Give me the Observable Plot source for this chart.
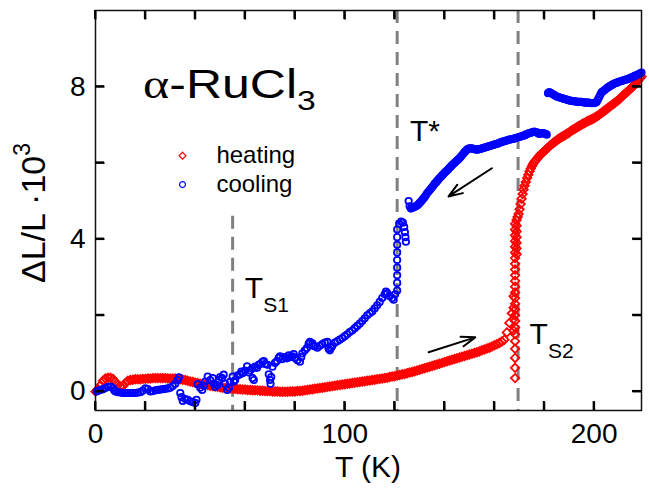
<!DOCTYPE html>
<html><head><meta charset="utf-8">
<script src="https://cdn.jsdelivr.net/npm/d3@7"></script>
<script src="https://cdn.jsdelivr.net/npm/@observablehq/plot@0.6"></script>
<style>
body{margin:0;background:#fff}
svg{font-family:"Liberation Sans",Arial,sans-serif}
</style>
</head><body><div id="chart"></div>
<script>
// heating: [T (K), ΔL/L·10^3]
const heating = [
[0,0.00],[1,0.06],[2,0.16],[3,0.28],[4,0.34],[5,0.36],[6,0.36],[7,0.33],[8,0.25],[9,0.17],
[10,0.13],[11,0.14],[12,0.22],[13,0.28],[14,0.30],[15,0.31],[16,0.32],[17,0.32],[18,0.32],[19,0.33],
[20,0.33],[21,0.34],[22,0.34],[23,0.35],[24,0.35],[25,0.35],[26,0.35],[27,0.35],[28,0.35],[29,0.34],
[30,0.34],[31,0.34],[32,0.34],[33,0.33],[34,0.32],[35,0.31],[36,0.30],[37,0.28],[38,0.26],[39,0.25],
[40,0.23],[41,0.22],[42,0.20],[43,0.19],[44,0.18],[45,0.17],[46,0.15],[47,0.14],[48,0.13],[49,0.12],
[50,0.11],[51,0.10],[52,0.09],[53,0.09],[54,0.08],[55,0.08],[56,0.07],[57,0.06],[58,0.06],[59,0.05],
[60,0.05],[61,0.04],[62,0.04],[63,0.03],[64,0.03],[65,0.03],[66,0.02],[67,0.02],[68,0.01],[69,0.01],
[70,0.01],[71,0.00],[72,0.00],[73,0.00],[74,-0.01],[75,-0.01],[76,-0.01],[77,-0.01],[78,0.00],[79,0.00],
[80,0.00],[81,0.01],[82,0.01],[83,0.02],[84,0.03],[85,0.04],[86,0.05],[87,0.06],[88,0.07],[89,0.08],
[90,0.09],[91,0.10],[92,0.11],[93,0.12],[94,0.13],[95,0.14],[96,0.15],[97,0.16],[98,0.17],[99,0.18],
[100,0.19],[101,0.20],[102,0.21],[103,0.22],[104,0.23],[105,0.24],[106,0.25],[107,0.26],[108,0.27],[109,0.28],
[110,0.29],[111,0.30],[112,0.31],[113,0.32],[114,0.33],[115,0.34],[116,0.35],[117,0.36],[118,0.38],[119,0.39],
[120,0.40],[121,0.42],[122,0.43],[123,0.45],[124,0.46],[125,0.48],[126,0.50],[127,0.51],[128,0.53],[129,0.55],
[130,0.57],[131,0.59],[132,0.61],[133,0.63],[134,0.65],[135,0.67],[136,0.69],[137,0.71],[138,0.73],[139,0.75],
[140,0.77],[141,0.79],[142,0.81],[143,0.83],[144,0.85],[145,0.87],[146,0.89],[147,0.91],[148,0.93],[149,0.95],
[150,0.97],[151,0.99],[152,1.01],[153,1.03],[154,1.05],[155,1.08],[156,1.10],[157,1.13],[158,1.15],[159,1.18],
[160,1.21],[161,1.24],[162,1.27],[163,1.31],[164,1.36],[165,1.55],[166,1.80],[167,2.05],
[168.3,0.35],[168.3,0.62],[168.3,0.88],[168.3,1.12],[168.3,1.32],[168.3,1.50],[168.3,1.68],[168.3,1.85],
[168.3,2.00],[168.3,2.15],[168.3,2.30],[168.3,2.45],[168.3,2.60],[168.3,2.75],[168.3,2.90],[168.3,3.05],
[168.3,3.20],[168.3,3.35],[168.3,3.50],[168.3,3.65],[168.3,3.80],[168.3,3.95],[168.3,4.10],[168.3,4.25],[168.3,4.40],
[167.7,1.60],[167.7,1.90],[167.7,2.20],[167.7,2.50],
[168.9,3.60],[168.9,3.75],[168.9,3.90],[168.9,4.05],[168.9,4.20],[168.9,4.35],[168.9,4.50],
[169.3,4.58],[169.7,4.66],[170.1,4.78],[170.5,4.92],[170.9,5.06],[171.3,5.18],[171.7,5.30],[172.1,5.40],
[172.6,5.50],[173.1,5.60],[173.6,5.69],[174.1,5.78],[174.6,5.85],[175.1,5.92],[175.5,5.97],[176,6.02],[176.5,6.06],[177,6.10],
[177.5,6.14],[178,6.18],[178.5,6.22],[179,6.25],[179.5,6.28],[180,6.31],[180.5,6.34],[181,6.37],[181.5,6.40],[182,6.43],[182.5,6.46],[183,6.49],[183.5,6.52],[184,6.54],[184.5,6.57],[185,6.59],[185.5,6.62],[186,6.64],
[186.5,6.66],[187,6.68],[187.5,6.70],[188,6.72],[188.5,6.74],[189,6.76],[189.5,6.78],[190,6.80],[190.5,6.83],[191,6.85],[191.5,6.87],[192,6.89],[192.5,6.91],[193,6.93],[193.5,6.95],[194,6.97],[194.5,6.99],[195,7.01],
[195.5,7.03],[196,7.04],[196.5,7.06],[197,7.08],[197.5,7.10],[198,7.11],[198.5,7.13],[199,7.14],[199.5,7.16],[200,7.18],[200.5,7.20],[201,7.22],[201.5,7.24],[202,7.26],[202.5,7.29],[203,7.31],[203.5,7.34],[204,7.36],
[204.5,7.39],[205,7.41],[205.5,7.44],[206,7.46],[206.5,7.49],[207,7.51],[207.5,7.54],[208,7.56],[208.5,7.59],[209,7.61],[209.5,7.64],[210,7.67],[210.5,7.70],[211,7.73],[211.5,7.76],[212,7.79],[212.5,7.82],[213,7.85],
[213.5,7.88],[214,7.91],[214.5,7.94],[215,7.97],[215.5,8.00],[216,8.04],[216.5,8.07],[217,8.11],[217.5,8.15],[218,8.19],[218.5,8.23],[219,8.27]
];

// cooling: [T (K), ΔL/L·10^3]
const cooling = [
[0.5,0.00],[1,0.02],[2,0.04],[3,0.06],[4,0.09],[5,0.12],[6,0.13],[7,0.09],[7.5,0.03],[8,0.00],
[9,-0.02],[10,-0.03],[11,-0.04],[12,-0.04],[13,-0.04],[14,-0.04],[15,-0.04],[16,-0.04],[17,-0.03],[18,-0.02],
[19,0.02],[20,0.08],[21,0.06],[22,0.00],[23,0.01],[24,0.03],[25,0.04],[26,0.05],[27,0.06],[28,0.07],
[29,0.08],[30,0.10],[31,0.14],[32,0.20],[33,0.30],[33.5,0.37],[34,-0.04],[34.5,-0.15],[35,-0.25],[36,-0.20],
[37,-0.22],[38,-0.26],[39,-0.28],[40,-0.30],[40.5,-0.22],[41,0.19],[42,0.10],[42.8,0.04],[43.5,0.15],[44,0.26],
[45,0.39],[46,0.30],[47,0.35],[47.5,0.20],[48,0.12],[48.8,0.17],[49.5,0.30],[50,0.38],[50.8,0.35],[51.4,0.44],
[52,0.20],[52.8,0.04],[53.5,0.10],[54,0.25],[55,0.39],[55.5,0.26],[56,0.30],[57,0.42],[58,0.45],[58.5,0.52],
[59,0.48],[60,0.55],[60.8,0.66],[61.5,0.50],[62,0.55],[62.8,0.60],[63,0.35],[63.5,0.30],[64,0.65],[64.8,0.62],
[65.5,0.70],[66,0.72],[67,0.78],[67.5,0.80],[68,0.72],[69,0.70],[69.5,0.45],[70,0.30],[70.2,0.20],[70.5,0.38],
[71,0.65],[72,0.75],[72.8,0.80],[73.5,0.88],[74,0.92],[75,0.85],[76,0.90],[76.8,0.87],[77.5,0.95],[78,0.90],
[79,0.92],[79.5,0.98],[80,0.88],[81,0.82],[82,0.78],[82.5,0.90],[83,1.00],[84,1.08],[84.8,1.14],[85.5,1.25],
[86,1.30],[87,1.26],[87.5,1.20],[88,1.18],[89,1.15],[90,1.20],[91,1.24],[92,1.28],[93,1.30],[93.5,1.12],
[94,1.08],[94.5,1.15],[95,1.20],[96,1.28],[97,1.32],[98,1.36],[99,1.40],[100,1.45],[101,1.50],[102,1.56],
[103,1.60],[104,1.66],[105,1.72],[106,1.78],[107,1.85],[108,1.92],[109,2.00],[110,2.05],[111,2.10],[112,2.18],
[113,2.26],[114,2.35],[115,2.45],[116,2.55],[116.5,2.62],[117,2.58],[118,2.50],[119,2.45],[119.6,2.41],[120.2,2.55],
[121,2.65],[121,2.85],[121,3.05],[121,3.25],[121,3.45],[121,3.65],[121,3.85],[121,4.05],[121,4.25],
[121.8,4.40],[122.6,4.46],[123.3,4.43],[123.8,4.32],[124.1,4.18],[124.3,4.05],[124.5,3.93],
[125.6,5.00],[126,4.86],[126.5,4.80],[127,4.82],[127.5,4.83],[128,4.85],[128.5,4.86],[129,4.88],[129.5,4.91],[130,4.95],[130.5,4.98],[131,5.02],[131.5,5.06],[132,5.10],
[132.5,5.15],[133,5.20],[133.5,5.24],[134,5.28],[134.5,5.32],[135,5.36],[135.5,5.40],[136,5.45],[136.5,5.48],[137,5.52],[137.5,5.56],[138,5.60],[138.5,5.63],[139,5.67],[139.5,5.70],[140,5.74],[140.5,5.77],[141,5.80],
[141.5,5.83],[142,5.87],[142.5,5.90],[143,5.94],[143.5,5.97],[144,6.00],[144.5,6.03],[145,6.06],[145.5,6.09],[146,6.12],[146.5,6.16],[147,6.20],[147.5,6.24],[148,6.28],[148.5,6.31],[149,6.35],[149.5,6.37],[150,6.38],
[150.5,6.38],[151,6.38],[151.5,6.37],[152,6.36],[152.5,6.35],[153,6.35],[153.5,6.35],[154,6.36],[154.5,6.37],[155,6.38],[155.5,6.39],[156,6.40],[156.5,6.41],[157,6.42],[157.5,6.43],[158,6.44],[158.5,6.45],[159,6.46],
[159.5,6.47],[160,6.48],[160.5,6.49],[161,6.50],[161.5,6.51],[162,6.52],[162.5,6.54],[163,6.55],[163.5,6.56],[164,6.57],[164.5,6.58],[165,6.59],[165.5,6.60],[166,6.61],[166.5,6.62],[167,6.62],[167.5,6.63],[168,6.64],
[168.5,6.65],[169,6.66],[169.5,6.67],[170,6.68],[170.5,6.69],[171,6.70],[171.5,6.71],[172,6.72],[172.5,6.74],[173,6.75],[173.5,6.77],[174,6.78],[174.5,6.79],[175,6.80],[175.5,6.81],[176,6.82],[176.5,6.81],[177,6.80],
[177.5,6.78],[178,6.76],[178.5,6.77],[179,6.78],[179.5,6.78],[180,6.77],[180.5,6.76],[181,6.74],
[181.5,7.83],[182,7.86],[182.5,7.84],[183,7.82],[183.5,7.80],[184,7.78],[184.5,7.76],[185,7.74],[185.5,7.73],[186,7.72],[186.5,7.71],[187,7.70],[187.5,7.69],[188,7.68],[188.5,7.67],[189,7.66],[189.5,7.65],
[190,7.64],[190.5,7.63],[191,7.63],[191.5,7.62],[192,7.62],[192.5,7.61],[193,7.61],[193.5,7.60],[194,7.60],[194.5,7.60],[195,7.60],[195.5,7.59],[196,7.59],[196.5,7.58],[197,7.58],[197.5,7.58],[198,7.58],[198.5,7.57],
[199,7.57],[199.5,7.57],[200,7.57],[200.5,7.58],[201,7.60],[201.5,7.66],[202,7.72],[202.5,7.79],[203,7.85],[203.5,7.88],[204,7.90],[204.5,7.93],[205,7.95],[205.5,7.98],[206,8.00],[206.5,8.02],[207,8.04],[207.5,8.06],
[208,8.08],[208.5,8.09],[209,8.10],[209.5,8.12],[210,8.13],[210.5,8.14],[211,8.15],[211.5,8.16],[212,8.17],[212.5,8.18],[213,8.19],[213.5,8.20],[214,8.21],[214.5,8.23],[215,8.24],[215.5,8.26],[216,8.27],[216.5,8.29],
[217,8.30],[217.5,8.32],[218,8.33],[218.5,8.35],[219,8.37]
];

const xTicks = [0,20,40,60,80,100,120,140,160,180,200];
const xTickLabels = [0,100,200];
const yTicks = [0,2,4,6,8];
const yTickLabels = [0,4,8];
const transitions = [
  {name: "TS1", T: 55, top: 4.6},
  {name: "T*", T: 121, top: 10},
  {name: "TS2", T: 169.5, top: 10}
];
const arrows = [
  {T1: 159, v1: 5.86, T2: 141.6, v2: 5.12},
  {T1: 133.6, v1: 1.03, T2: 152.3, v2: 1.42}
];
const legendItems = ["heating", "cooling"];
const legendColors = ["#ff0000", "#0000ff"];
const legendSymbols = ["diamond2", "circle"];

const FONT = '"Liberation Sans", Arial, sans-serif';
const X0 = 0, X1 = 219, Y0 = -0.5, Y1 = 10;
const TICK_PX = 9;
const W = 649, H = 497, ML = 95, MR = 8, MT = 10, MB = 87;
const tx = TICK_PX * (X1 - X0) / (W - ML - MR);
const ty = TICK_PX * (Y1 - Y0) / (H - MT - MB);
const xTickRows = xTicks.flatMap(t => [{x: t, a: Y0, b: Y0 + ty}, {x: t, a: Y1, b: Y1 - ty}]);
const yTickRows = yTicks.flatMap(t => [{y: t, a: X0, b: X0 + tx}, {y: t, a: X1, b: X1 - tx}]);

const plot = Plot.plot({
  width: W, height: H,
  marginLeft: ML, marginRight: MR, marginTop: MT, marginBottom: MB,
  x: {domain: [X0, X1]},
  y: {domain: [Y0, Y1]},
  style: {fontFamily: FONT, fontSize: "28px", background: "white", color: "black"},
  marks: [
    Plot.ruleX(transitions, {x: "T", y1: "top", y2: Y0, stroke: "#808080", strokeWidth: 3, strokeDasharray: "13,8"}),
    Plot.dot(heating, {x: d => d[0], y: d => d[1], symbol: "diamond2", r: 3.8, stroke: "#ff0000", strokeWidth: 1.8, fill: "none"}),
    Plot.dot(cooling, {x: d => d[0], y: d => d[1], symbol: "circle", r: 3.2, stroke: "#0000ff", strokeWidth: 1.8, fill: "none"}),
    Plot.arrow(arrows, {x1: "T1", y1: "v1", x2: "T2", y2: "v2", stroke: "black", strokeWidth: 2, headLength: 11, headAngle: 40}),
    Plot.dot(legendItems, {x: 34.9, y: (d, i) => [6.19, 5.43][i], symbol: (d, i) => legendSymbols[i], r: (d, i) => [2.8, 2.6][i], stroke: (d, i) => legendColors[i], strokeWidth: 1.2, fill: "none"}),
    Plot.text(legendItems, {x: 48.5, y: (d, i) => [6.19, 5.43][i], text: d => d, textAnchor: "start", fontSize: 24, fill: "black"}),
    Plot.frame({stroke: "#111", strokeWidth: 1.5}),
    // inward ticks on all four sides
    Plot.link(xTickRows, {x1: "x", x2: "x", y1: "a", y2: "b", stroke: "black", strokeWidth: 2}),
    Plot.link(yTickRows, {y1: "y", y2: "y", x1: "a", x2: "b", stroke: "black", strokeWidth: 2}),
    Plot.axisX(xTickLabels, {anchor: "bottom", tickSize: 0, tickPadding: 13, fontSize: 28, label: null}),
    Plot.axisY(yTickLabels, {anchor: "left", tickSize: 0, tickPadding: 10, fontSize: 28, label: null})
  ]
});

document.getElementById("chart").appendChild(plot);

const sx = plot.scale("x"), sy = plot.scale("y");
const svg = d3.select(plot);

// redundant tick layer on top, positioned through the plot's scales
const tg = svg.append("g").attr("stroke", "black").attr("stroke-width", 2);
for (const r of xTickRows) tg.append("line").attr("x1", sx.apply(r.x)).attr("x2", sx.apply(r.x)).attr("y1", sy.apply(r.a)).attr("y2", sy.apply(r.b));
for (const r of yTickRows) tg.append("line").attr("y1", sy.apply(r.y)).attr("y2", sy.apply(r.y)).attr("x1", sx.apply(r.a)).attr("x2", sx.apply(r.b));

const ann = svg.append("g").attr("fill", "black").attr("font-family", FONT).attr("text-anchor", "start");

// material label
const title = ann.append("text")
  .attr("transform", `translate(${sx.apply(19.3)},${sy.apply(7.70)}) scale(1.25,1)`)
  .attr("font-size", 40);
title.append("tspan").attr("font-family", '"Liberation Serif", serif').text("α");
title.append("tspan").text("-RuCl");
title.append("tspan").attr("font-size", 27).attr("dy", 12).text("3");

// transition labels
ann.append("text").attr("x", sx.apply(126.3)).attr("y", sy.apply(6.56)).attr("font-size", 30).text("T*");
for (const [T, v, sub] of [[60.1, 2.44, "S1"], [174.3, 1.23, "S2"]]) {
  const t = ann.append("text").attr("x", sx.apply(T)).attr("y", sy.apply(v)).attr("font-size", 30);
  t.append("tspan").text("T");
  t.append("tspan").attr("font-size", 21).attr("dy", 14).text(sub);
}

// axis titles
ann.append("text").attr("x", (ML + W - MR) / 2).attr("y", 477).attr("text-anchor", "middle").attr("font-size", 30).text("T (K)");
const yl = ann.append("text").attr("transform", "translate(45,213) rotate(-90)").attr("text-anchor", "middle").attr("font-size", 34);
yl.append("tspan").text("ΔL/L ·10");
yl.append("tspan").attr("font-size", 23).attr("dy", -15).text("3");
</script>
</body></html>
